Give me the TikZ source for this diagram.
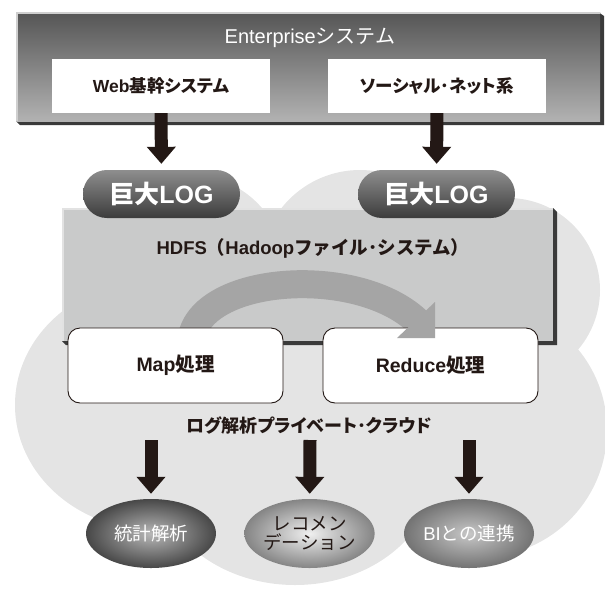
\documentclass[tikz,border=0pt]{standalone}
\usepackage{fontspec}
\setmainfont{Noto Sans CJK JP}
\newfontfamily\jpp{Noto Sans CJK JP}[RawFeature=+palt]
\newfontfamily\latin{Liberation Sans}[BoldFont={Liberation Sans Bold}]
\usetikzlibrary{arrows.meta,shapes.geometric}
\definecolor{inkblack}{HTML}{231815}
\definecolor{cloudgray}{HTML}{E4E4E4}
\definecolor{entTop}{HTML}{555555}
\definecolor{entBot}{HTML}{B2B2B2}
\definecolor{entRim}{HTML}{CFCFCF}
\definecolor{edgeDark}{HTML}{3A3A3A}
\definecolor{hdfsGray}{HTML}{C9CACA}
\definecolor{hdfsRim}{HTML}{E2E2E2}
\definecolor{flowGray}{HTML}{A5A5A5}
\definecolor{pillTop}{HTML}{8E8E8E}
\definecolor{pillBot}{HTML}{3C3C3C}
\newcommand{\jfs}[1]{\fontsize{#1}{#1}\selectfont}

\begin{document}
\begin{tikzpicture}[x=1pt,y=-1pt,
    sysbox/.style={fill=white, minimum width=218, minimum height=54, inner sep=0,
      text=inkblack, font=\jpp\bfseries\jfs{17.5}},
    logpill/.style={rounded corners=23.9, minimum width=157, minimum height=48,
      top color=pillTop, bottom color=pillBot, text=white, inner sep=0,
      font=\bfseries\jfs{25}},
    procbox/.style={draw=inkblack, line width=0.9, fill=white, rounded corners=12,
      minimum width=215, minimum height=75, inner sep=0, text=inkblack,
      font=\bfseries\jfs{19.5}},
    outcome/.style={ellipse, minimum width=130, minimum height=69, inner sep=0,
      align=center, font=\jfs{18.5}},
    bigarrow/.style={draw=inkblack, line width=13,
      -{Triangle[width=28pt,length=17pt]}},
  ]
%  \draw [help lines] (0,0) grid [step=10] (605,590);
  \useasboundingbox (0,0) rectangle (605,590);

  % cloud behind everything
  \fill [cloudgray] (155,405) ellipse [x radius=140, y radius=125];
  \fill [cloudgray] (190,270) circle [radius=95];
  \fill [cloudgray] (360,270) circle [radius=100];
  \fill [cloudgray] (508,290) circle [radius=92];
  \fill [cloudgray] (480,430) circle [radius=127];
  \fill [cloudgray] (295,470) ellipse [x radius=140, y radius=115];
  \fill [cloudgray] (310,400) ellipse [x radius=200, y radius=90];

  % enterprise frame
  \fill [edgeDark] (598,12) -- (604,16) -- (604,125) -- (20,125) -- (16,121) -- cycle;
  \shade [top color=entTop, bottom color=entBot] (16,12) rectangle (600,121);
  \draw [entRim, line width=2.5] (17.2,121) -- (17.2,13.2) -- (600,13.2);
  \node [text=white, font=\jfs{20}] (ent) at (310,38) {{\latin Enterprise}システム};

  \node [sysbox] (web) at (161,86) {{\latin Web}基幹システム};
  \node [sysbox] (social) at (437,86) {ソーシャル･ネット系};

  % HDFS
  \fill [edgeDark] (553,208) -- (557,212) -- (557,345) -- (66,345) -- (62,341) -- cycle;
  \fill [hdfsGray] (62,208) rectangle (553,341);
  \draw [hdfsRim, line width=2] (63,341) -- (63,209) -- (553,209);
  \node [text=inkblack, font=\bfseries\jfs{18.5}] (hdfs) at (313,248)
    {{\latin HDFS}（{\latin Hadoop}ファイル･システム）};

  \coordinate (flowA) at (191,345);
  \coordinate (flowB) at (420,324);
  \draw [flowGray, line width=28] (flowA) .. controls (191,275) and (360,262) .. (flowB);

  \node [procbox] (map) at (175.5,365.5) {{\latin Map}処理};
  \node [procbox] (reduce) at (430.5,365.5) {{\latin Reduce}処理};
  \fill [flowGray] (435,302) -- (435,338) -- (397,338) -- cycle;

  \node [logpill] (log1) at (161.5,194) {巨大{\latin LOG}};
  \node [logpill] (log2) at (436.5,194) {巨大{\latin LOG}};

  \draw [bigarrow, shorten >=6] (web) -- (log1);
  \draw [bigarrow, shorten >=6] (social) -- (log2);

  \node [text=inkblack, font=\jpp\bfseries\jfs{18}] (cloud) at (309,425)
    {ログ解析プライベート･クラウド};

  \node [outcome, inner color=black!28, outer color=black!72, text=white]
    (stat) at (151,533.5) {統計解析};
  \node [outcome, inner color=black!6, outer color=black!48, text=inkblack]
    (reco) at (309.5,533.5) {レコメン\\デーション};
  \node [outcome, inner color=black!22, outer color=black!55, text=white]
    (bi) at (469,533.5) {{\latin BI}との連携};

  \coordinate (out1) at (151,440);
  \coordinate (out2) at (310,440);
  \coordinate (out3) at (469,440);
  \draw [bigarrow, shorten >=5] (out1) -- (stat);
  \draw [bigarrow, shorten >=5] (out2) -- (reco);
  \draw [bigarrow, shorten >=5] (out3) -- (bi);

\end{tikzpicture}
\end{document}
